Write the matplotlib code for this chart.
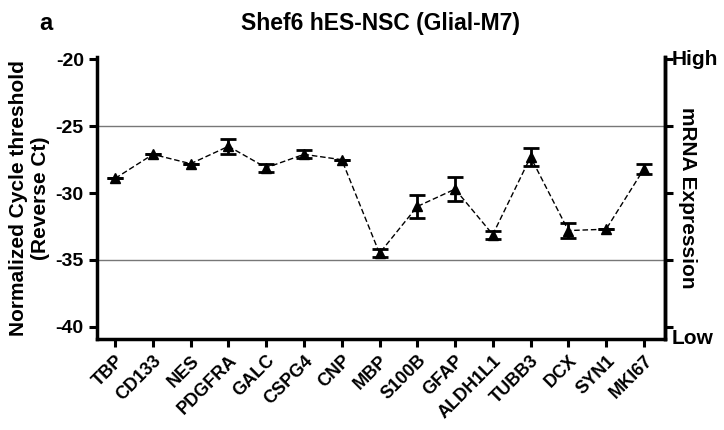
import matplotlib.pyplot as plt
import numpy as np

plt.rcParams['font.family'] = ['Liberation Sans', 'DejaVu Sans']
plt.rcParams['font.weight'] = 'bold'

genes = ['TBP', 'CD133', 'NES', 'PDGFRA', 'GALC', 'CSPG4', 'CNP', 'MBP',
         'S100B', 'GFAP', 'ALDH1L1', 'TUBB3', 'DCX', 'SYN1', 'MKI67']
ct_mean = [-28.9, -27.1, -27.8, -26.5, -28.1, -27.1, -27.5, -34.5,
           -31.0, -29.7, -33.1, -27.3, -32.8, -32.7, -28.2]
ct_err = [0.0, 0.0, 0.0, 0.55, 0.3, 0.3, 0.0, 0.3,
          0.85, 0.9, 0.3, 0.7, 0.55, 0.0, 0.35]
yticks = [-20, -25, -30, -35, -40]

fig = plt.figure(figsize=(7.24, 4.30), dpi=100)
ax = fig.add_axes([0.134, 0.212, 0.784, 0.656])

x = np.arange(len(genes))
ax.axhline(-25, color='#777777', lw=1.0, zorder=1)
ax.axhline(-35, color='#777777', lw=1.0, zorder=1)
ax.errorbar(x, ct_mean, yerr=ct_err, fmt='^', color='black', ms=7,
            ecolor='black', elinewidth=2, capsize=5.5, capthick=2, zorder=3)
ax.plot(x, ct_mean, ls=(0, (4, 2)), color='black', lw=1.0, zorder=2)

ax.set_xlim(-0.48, 14.55)
ax.set_ylim(-40.9, -19.8)
ax.set_yticks(yticks)
ax.set_yticklabels([str(t) for t in yticks], fontsize=14, fontweight='bold')
ax.set_xticks(x)
ax.set_xticklabels(genes, rotation=45, ha='right', rotation_mode='anchor',
                   fontsize=13, fontweight='bold')
ax.tick_params(axis='both', direction='out', length=6, width=2.2)

for side in ['left', 'bottom', 'right']:
    ax.spines[side].set_linewidth(2.5)
ax.spines['top'].set_visible(False)

ax2 = ax.twinx()
ax2.set_ylim(ax.get_ylim())
ax2.set_yticks(yticks)
ax2.set_yticklabels([])
ax2.tick_params(axis='y', direction='out', length=6, width=2.2)
ax2.spines['right'].set_linewidth(2.5)
ax2.spines['top'].set_visible(False)
ax2.text(1.012, -20, 'High', transform=ax2.get_yaxis_transform(),
         fontsize=15, fontweight='bold', va='center', ha='left')
ax2.text(1.012, -40.9, 'Low', transform=ax2.get_yaxis_transform(),
         fontsize=15, fontweight='bold', va='center', ha='left')
ax2.set_ylabel('mRNA Expression', rotation=270, fontsize=15,
               fontweight='bold', labelpad=14)

ax.set_ylabel('Normalized Cycle threshold\n(Reverse Ct)', fontsize=15,
              fontweight='bold', labelpad=4)

fig.text(0.525, 0.945, 'Shef6 hES-NSC (Glial-M7)', fontsize=16.5,
         fontweight='bold', ha='center', va='center')
fig.text(0.063, 0.945, 'a', fontsize=17, fontweight='bold', ha='center',
         va='center')

fig.savefig('out.png', dpi=100)
